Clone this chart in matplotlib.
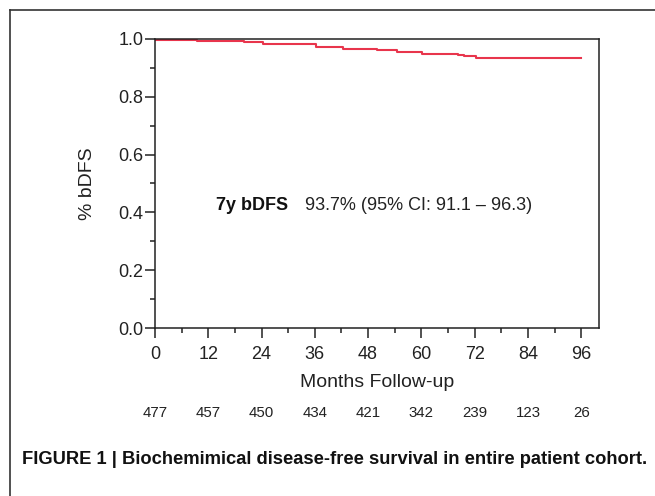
import matplotlib
matplotlib.use("Agg")
import matplotlib.pyplot as plt
from matplotlib.lines import Line2D
from matplotlib.ticker import MultipleLocator

plt.rcParams['font.family'] = ['Liberation Sans', 'DejaVu Sans']

# Kaplan-Meier steps
months = [0, 9.5, 17, 20, 22, 24.3, 36.3, 42.3, 46, 50, 54.4, 60.2, 68.2, 69.5, 72.4, 96]
bdfs = [0.997, 0.993, 0.992, 0.991, 0.989, 0.983, 0.971, 0.966, 0.964, 0.961, 0.955,
        0.949, 0.944, 0.942, 0.935, 0.935]

risk_months = [0, 12, 24, 36, 48, 60, 72, 84, 96]
at_risk = [477, 457, 450, 434, 421, 342, 239, 123, 26]

fig = plt.figure(figsize=(6.55, 4.96), dpi=100)
ax = fig.add_axes([0.2366, 0.3387, 0.6779, 0.5827])

ax.plot(months, bdfs, drawstyle='steps-post', color='#e8354c', lw=1.5)

ax.set_xlim(0, 100)
ax.set_ylim(0, 1.0)
ax.set_xticks(risk_months)
ax.xaxis.set_minor_locator(MultipleLocator(6))
ax.yaxis.set_major_locator(MultipleLocator(0.2))
ax.yaxis.set_minor_locator(MultipleLocator(0.1))
ax.yaxis.set_major_formatter(plt.FormatStrFormatter('%.1f'))
ax.tick_params(which='major', direction='out', length=7, width=1.1, labelsize=13,
               colors='#222222')
ax.tick_params(which='minor', direction='out', length=3.6, width=1.1, colors='#222222')
ax.tick_params(axis='x', pad=6)
ax.tick_params(axis='y', pad=1.5)
for s in ax.spines.values():
    s.set_linewidth(1.1)
    s.set_color('#222222')

ax.set_xlabel('Months Follow-up', fontsize=14, color='#222222', labelpad=8)
ax.set_ylabel('% bDFS', fontsize=14, color='#222222', labelpad=16)

ax.text(13.7, 0.424, '7y bDFS', fontsize=13, fontweight='bold', va='center', color='#111111')
ax.text(33.7, 0.424, '93.7% (95% CI: 91.1 \u2013 96.3)', fontsize=13, va='center',
        color='#222222')

tr = ax.get_xaxis_transform()
for m, n in zip(risk_months, at_risk):
    ax.text(m, -0.295, str(n), transform=tr, ha='center', va='center', fontsize=10.8,
            color='#222222')

fig.text(22 / 655, 1 - 460 / 496, 'FIGURE 1 | Biochemimical disease-free survival in entire patient cohort.',
         fontsize=13.2, fontweight='bold', va='center', ha='left', color='#111111')

# outer frame (top and left edges only)
fig.add_artist(Line2D([10 / 655, 1], [1 - 10 / 496, 1 - 10 / 496], transform=fig.transFigure,
                      color='#333333', lw=1.2))
fig.add_artist(Line2D([10 / 655, 10 / 655], [0, 1 - 10 / 496], transform=fig.transFigure,
                      color='#333333', lw=1.2))

fig.savefig('out.png', dpi=100)
